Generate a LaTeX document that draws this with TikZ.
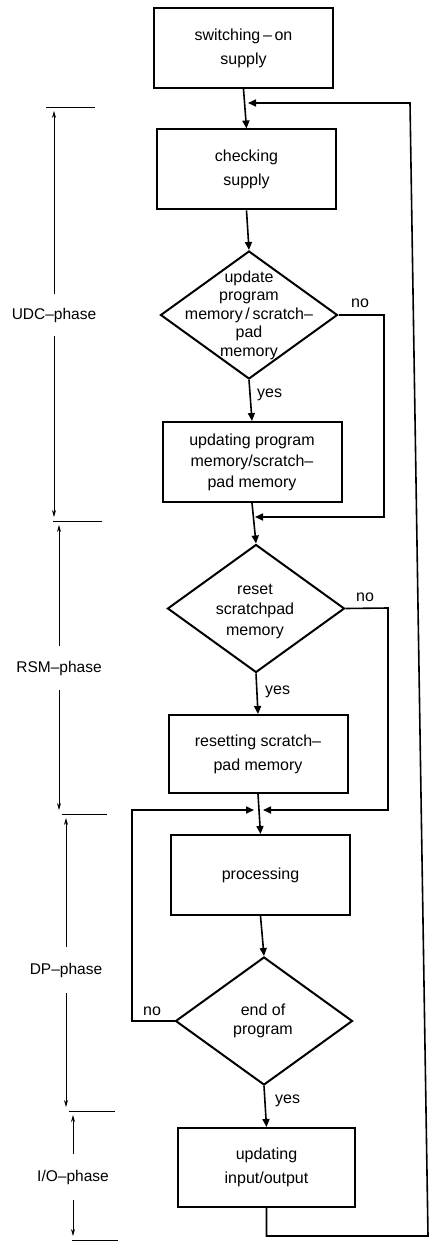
\documentclass[tikz,border=0pt]{standalone}
\usepackage{fontspec}
\setmainfont{Liberation Sans}
\usetikzlibrary{shapes.geometric,arrows.meta}
\begin{document}
\begin{tikzpicture}[x=1pt,y=-1pt,
  font=\fontsize{16}{24}\selectfont,
  box/.style={draw,line width=2pt,minimum width=179pt,minimum height=80pt,inner sep=0pt,align=center},
  dia/.style={draw,diamond,line width=2pt,minimum width=177pt,minimum height=128pt,inner sep=0pt},
  diatext/.style={align=center,inner sep=0pt,font=\fontsize{16}{18.5}\selectfont},
  flow/.style={line width=1.6pt,-{Triangle[length=8pt,width=7pt]}},
  dim/.style={line width=0.7pt,-{Stealth[length=7pt,width=4pt]},shorten >=4pt},
  tickline/.style={line width=0.7pt},
  plabel/.style={inner sep=0pt,font=\fontsize{15.5}{18}\selectfont},
  yn/.style={inner sep=0pt},
]
\useasboundingbox (0,0) rectangle (433,1241);

% main nodes
\node[box] (b1) at (243.5,48) {switching\,–\,on\\supply};
\node[box] (b2) at (246.5,169.5) {checking\\supply};
\node[dia] (d1) at (249,315) {};
\node[diatext] (d1t) at (d1) {update\\program\\memory\,/\,scratch–\\pad\\memory};
\node[box,font=\fontsize{16}{21}\selectfont] (b3) at (252,462) {updating program\\memory/scratch–\\pad memory};
\node[dia] (d2) at (256,608.5) {};
\node[diatext,font=\fontsize{16}{20.5}\selectfont] (d2t) at (255,611) {reset\\scratchpad\\memory};
\node[box,minimum height=78pt] (b4) at (258,754) {resetting scratch–\\pad memory};
\node[box] (b5) at (260.5,875) {processing};
\node[dia] (d3) at (264,1021) {};
\node[diatext,font=\fontsize{16}{19}\selectfont] (d3t) at (263,1021) {end of\\program};
\node[box,minimum width=177pt,minimum height=79pt] (b6) at (266.5,1167.5) {updating\\input/output};

% helper coordinates
\coordinate (r0) at (248,103);
\coordinate (rb) at (428,1236);
\coordinate (rt) at (410,103);
\coordinate (n1) at (384,315);
\coordinate (m1) at (255,517);
\coordinate (n2) at (388,608);
\coordinate (m2) at (263,810);
\coordinate (n3) at (132,1021);
\coordinate (m3) at (254,810);

% flow connectors
\draw[flow] (b1.south) -- (b2.north);
\draw[flow] (b2.south) -- (d1.north);
\draw[flow] (d1.south) -- (b3.north);
\draw[flow] (b3.south) -- (d2.north);
\draw[flow] (d2.south) -- (b4.north);
\draw[flow] (b4.south) -- (b5.north);
\draw[flow] (b5.south) -- (d3.north);
\draw[flow] (d3.south) -- (b6.north);
\draw[flow] (d1.east) -- (n1) |- (m1);
\draw[flow] (d2.east) -- (n2) |- (m2);
\draw[flow] (d3.west) -- (n3) |- (m3);
\draw[flow] (b6.south) |- (rb) -- (rt) -- (r0);

% yes / no labels
\node[yn,anchor=west] (y1) at (257,395) {yes};
\node[yn,anchor=west] (y2) at (265,692) {yes};
\node[yn,anchor=west] (y3) at (275,1101) {yes};
\node[yn] (no1) at (360,303) {no};
\node[yn] (no2) at (365,597) {no};
\node[yn] (no3) at (152,1011) {no};

% phase markers
\coordinate (t0) at (46,107);
\coordinate (t1) at (53,521);
\coordinate (t2) at (62,814);
\coordinate (t3) at (69,1111);
\coordinate (t4) at (72,1240);
\draw[tickline] (t0) -- ++(49,0);
\draw[tickline] (t1) -- ++(49,0);
\draw[tickline] (t2) -- ++(45,0);
\draw[tickline] (t3) -- ++(46,0);
\draw[tickline] (t4) -- ++(46,0);

\node[plabel,minimum height=42pt] (udc) at (54,315) {UDC–phase};
\node[plabel,minimum height=44pt] (rsm) at (59,668) {RSM–phase};
\node[plabel,minimum height=46pt] (dp) at (66,970) {DP–phase};
\node[plabel,minimum height=45pt] (io) at (73,1177) {I/O–phase};

\draw[dim] (udc.north) -- (udc.north |- t0);
\draw[dim] (udc.south) -- (udc.south |- t1);
\draw[dim] (rsm.north) -- (rsm.north |- t1);
\draw[dim] (rsm.south) -- (rsm.south |- t2);
\draw[dim] (dp.north) -- (dp.north |- t2);
\draw[dim] (dp.south) -- (dp.south |- t3);
\draw[dim] (io.north) -- (io.north |- t3);
\draw[dim] (io.south) -- (io.south |- t4);
\end{tikzpicture}
\end{document}
